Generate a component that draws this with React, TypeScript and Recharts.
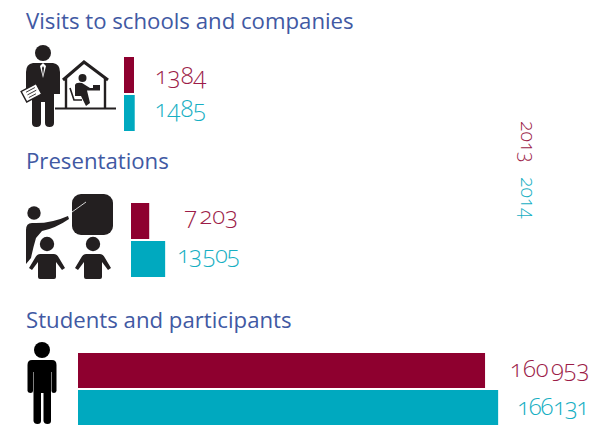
import { BarChart, Bar, XAxis, YAxis, LabelList } from 'recharts'

const years = ['2013', '2014']
const titles = ['Visits to schools and companies', 'Presentations', 'Students and participants']
const visits = [1384, 1485]
const presentations = [7203, 13505]
const students = [160953, 166131]

const maroon = '#8e002f'
const teal = '#00a9bf'
const maroonText = '#9c1c48'
const tealText = '#17afc3'
const blue = '#4159a3'
const ink = '#231f20'
const font = '"Open Sans", "Noto Sans", sans-serif'
const headroom = 14

// the print version only splits thousands from 7 203 up, with a very small space
const fmt = (v: number) => (v < 2000 ? String(v) : v.toString().replace(/\B(?=(\d{3})+$)/g, '\u200a'))

function Panel({ title, values, top, height, left, max, plot, gaps, shifts, spacing }: any) {
  const row = [{ name: title, a: values[0], b: values[1] }]
  const label = (idx: number, color: string) => (props: any) => (
    <text
      x={props.x + props.width + gaps[idx]}
      y={props.y + props.height / 2 + shifts[idx]}
      fill={color}
      fontFamily={font}
      fontWeight={300}
      fontSize={24}
      letterSpacing={spacing[idx]}
      style={{ fontFeatureSettings: '"onum"' }}
    >
      {fmt(values[idx])}
    </text>
  )
  return (
    <div style={{ position: 'absolute', left: 0, top: top - headroom }}>
      <BarChart
        width={616}
        height={height + headroom}
        data={row}
        layout="vertical"
        barCategoryGap={0}
        barGap={2}
        margin={{ top: headroom, bottom: 0, left, right: 616 - left - plot }}
      >
        <XAxis type="number" domain={[0, max]} hide />
        <YAxis type="category" dataKey="name" hide />
        <Bar dataKey="a" name={years[0]} fill={maroon} isAnimationActive={false}>
          <LabelList dataKey="a" content={label(0, maroonText)} />
        </Bar>
        <Bar dataKey="b" name={years[1]} fill={teal} isAnimationActive={false}>
          <LabelList dataKey="b" content={label(1, tealText)} />
        </Bar>
      </BarChart>
    </div>
  )
}

function Icons() {
  return (
    <g>
      {/* man with clipboard */}
      <g fill={ink} stroke="none">
        <circle cx={43} cy={53} r={8} />
        <path d="M33 63 H53 Q60 64 60 72 V94 H54 V123 Q54 127 49.5 127 Q45 127 45 123 V102 H41 V123 Q41 127 36.5 127 Q32 127 32 123 V94 H26 V72 Q26 64 33 63 Z" />
      </g>
      <path d="M43 63 L40 66 L43 78 L46 66 Z" fill="#fff" />
      <path d="M43 66 L42 68 L43 76 L44 68 Z" fill={ink} />
      <g transform="rotate(-28 31 93)">
        <rect x={23} y={87} width={17} height={12} fill="#fff" stroke={ink} strokeWidth={1.4} />
        <path d="M27 90 H37 M27 93 H37 M27 96 H35" stroke={ink} strokeWidth={0.8} />
      </g>
      {/* house */}
      <path d="M63 80 L84 62 L108 80" fill="none" stroke={ink} strokeWidth={3} />
      <path d="M66 78 V108 M105 77 V108" fill="none" stroke={ink} strokeWidth={2.4} />
      <path d="M55 108.5 H116" stroke={ink} strokeWidth={2} />
      <circle cx={82.5} cy={78} r={4} fill={ink} />
      <path d="M75 85 Q76 82 82 83 L90 88 H100 V90.5 H87 L90 103 L86 106 L81 96 H75 Z" fill={ink} />
      <path d="M70 88 L74 100 H82" fill="none" stroke={ink} strokeWidth={1.6} />
      <rect x={93} y={85} width={7} height={4} fill={ink} />
      {/* teacher and board */}
      <rect x={72} y={194} width={41} height={41} rx={9} fill={ink} />
      <path d="M72 212 L86 202" stroke="#e6e6e6" strokeWidth={0.9} />
      <circle cx={34} cy={213} r={6.7} fill={ink} />
      <path d="M32 223 Q50 224 68 216 L69 219 Q56 228 42 231 L36 238 Q33 248 31 258 L26 264 V230 Q26 223 32 223 Z" fill={ink} />
      {[47, 93].map((cx) => (
        <g key={cx} fill={ink}>
          <circle cx={cx} cy={244} r={7.2} />
          <path
            d={`M${cx - 7} 254 H${cx + 7} Q${cx + 10} 254 ${cx + 12} 258 L${cx + 18} 268 L${cx + 15} 270 L${cx + 9} 262 V277 Q${cx + 9} 279 ${cx + 7} 279 H${cx - 7} Q${cx - 9} 279 ${cx - 9} 277 V262 L${cx - 15} 270 L${cx - 18} 268 L${cx - 12} 258 Q${cx - 10} 254 ${cx - 7} 254 Z`}
          />
        </g>
      ))}
      {/* standing person */}
      <circle cx={42} cy={350} r={8} fill="#000" />
      <path
        d="M32 360 H52 Q56.5 360 56.5 365 V391 Q56 393 54 393 Q51.5 393 51.5 391 V372 H51 V421 Q51 424 47.5 424 Q44 424 43.5 421 V393 H41 V421 Q41 424 37.5 424 Q34 424 33.5 421 V372 H33 V391 Q33 393 30.5 393 Q28 393 27.5 391 V365 Q27.5 360 32 360 Z"
        fill="#000"
      />
    </g>
  )
}

export default function App() {
  return (
    <div style={{ position: 'absolute', left: 0, top: 0, width: 616, height: 425, overflow: 'hidden', background: '#fff' }}>
      <Panel title={titles[0]} values={visits} top={57} height={74} left={124} max={27700} plot={200} gaps={[21, 20]} shifts={[9, 4]} spacing={[0, 0]} />
      <Panel title={titles[1]} values={presentations} top={203} height={74} left={131} max={100000} plot={252.9} gaps={[35, 12]} shifts={[3, 4]} spacing={[0, -0.8]} />
      <Panel title={titles[2]} values={students} top={353} height={72} left={78} max={200000} plot={505.8} gaps={[25, 19]} shifts={[6, 7]} spacing={[0, -1.2]} />
      <svg width={616} height={425} style={{ position: 'absolute', left: 0, top: 0 }}>
        <Icons />
        <g fontFamily={font} fontSize={22.2} fill={blue}>
          <text x={26} y={29}>{titles[0]}</text>
          <text x={26} y={169}>{titles[1]}</text>
          <text x={26} y={328}>{titles[2]}</text>
        </g>
        <g fontFamily={font} fontWeight={300} fontSize={19.5} style={{ fontFeatureSettings: '"onum"' }}>
          <text transform="translate(521 121) rotate(90)" fill={maroonText}>{years[0]}</text>
          <text transform="translate(521 177) rotate(90)" fill={tealText}>{years[1]}</text>
        </g>
      </svg>
    </div>
  )
}
